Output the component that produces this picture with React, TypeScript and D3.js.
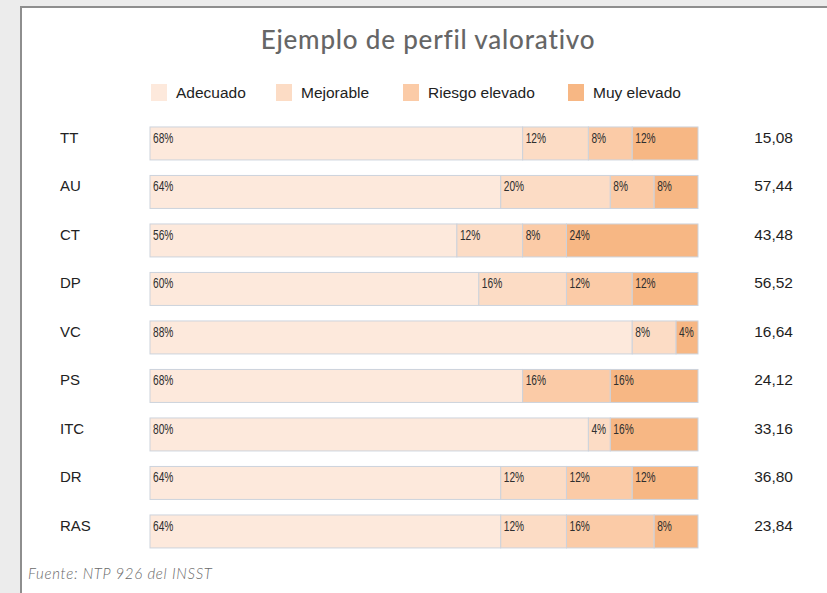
import React, { useRef, useEffect } from 'react';
import * as d3 from 'd3';

const rows = ['TT', 'AU', 'CT', 'DP', 'VC', 'PS', 'ITC', 'DR', 'RAS'];
const series = ['Adecuado', 'Mejorable', 'Riesgo elevado', 'Muy elevado'];
const adecuado = [68, 64, 56, 60, 88, 68, 80, 64, 64];
const mejorable = [12, 20, 12, 16, 8, 0, 4, 12, 12];
const riesgo = [8, 8, 8, 12, 0, 16, 0, 12, 16];
const muyElevado = [12, 8, 24, 12, 4, 16, 16, 12, 8];
const scores = ['15,08', '57,44', '43,48', '56,52', '16,64', '24,12', '33,16', '36,80', '23,84'];
const colors = ['#fde9dc', '#fcdcc5', '#fbcba7', '#f7b784'];

const W = 827;
const H = 593;

const App = () => {
  const svgRef = useRef<SVGSVGElement>(null);

  useEffect(() => {
    const svg = d3.select(svgRef.current);
    svg.selectAll('*').remove();

    // page + card
    svg.append('rect').attr('width', W).attr('height', H).attr('fill', '#ececec');
    svg.append('rect')
      .attr('x', 21).attr('y', 7).attr('width', W).attr('height', H)
      .attr('fill', '#fff').attr('stroke', '#8e8e8e').attr('stroke-width', 2);

    svg.append('text')
      .attr('x', 428).attr('y', 49)
      .attr('text-anchor', 'middle')
      .style('font-family', 'Lato, "Open Sans", sans-serif')
      .style('font-size', '26px')
      .style('font-weight', 500)
      .style('letter-spacing', '0.8px')
      .attr('fill', '#666')
      .text('Ejemplo de perfil valorativo');

    const table = rows.map((r, i) => ({
      row: r,
      Adecuado: adecuado[i],
      Mejorable: mejorable[i],
      'Riesgo elevado': riesgo[i],
      'Muy elevado': muyElevado[i],
    }));

    const x = d3.scaleLinear().domain([0, 100]).range([150, 698]);
    const y = d3.scaleBand().domain(rows).range([119.2, 555.7]).paddingInner(0.32).paddingOuter(0.16);
    const color = d3.scaleOrdinal<string, string>().domain(series).range(colors);

    const stack = d3.stack<any>().keys(series)(table);

    const sans = '"Liberation Sans", Arial, sans-serif';

    // legend
    const legendX = [151, 276, 403, 568];
    const legend = svg.append('g');
    series.forEach((s, i) => {
      legend.append('rect')
        .attr('x', legendX[i]).attr('y', 84).attr('width', 16).attr('height', 17)
        .attr('fill', color(s));
      legend.append('text')
        .attr('x', legendX[i] + 25).attr('y', 98)
        .style('font-family', sans)
        .style('font-size', '15.5px')
        .attr('fill', '#222')
        .text(s);
    });

    const layers = svg.append('g').selectAll('g')
      .data(stack)
      .join('g')
      .attr('fill', d => color(d.key));

    layers.selectAll('rect')
      .data(d => d.filter(p => p[1] - p[0] > 0))
      .join('rect')
      .attr('x', d => x(d[0]))
      .attr('y', d => y(d.data.row)!)
      .attr('width', d => x(d[1]) - x(d[0]))
      .attr('height', y.bandwidth())
      .attr('stroke', '#cdd3dc')
      .attr('stroke-width', 1);

    // condensed percentage labels
    layers.selectAll('text')
      .data(d => d.filter(p => p[1] - p[0] > 0))
      .join('text')
      .attr('transform', d => `translate(${x(d[0]) + 3},${y(d.data.row)! + 16}) scale(0.68,1)`)
      .style('font-family', sans)
      .style('font-size', '15px')
      .attr('fill', '#2e2e2e')
      .text(d => `${d[1] - d[0]}%`);

    svg.append('g').selectAll('text')
      .data(rows)
      .join('text')
      .attr('x', 60)
      .attr('y', d => y(d)! + 16)
      .style('font-family', sans)
      .style('font-size', '15px')
      .attr('fill', '#222')
      .text(d => d);

    svg.append('g').selectAll('text')
      .data(scores)
      .join('text')
      .attr('x', 793)
      .attr('y', (d, i) => y(rows[i])! + 16)
      .attr('text-anchor', 'end')
      .style('font-family', sans)
      .style('font-size', '15.5px')
      .attr('fill', '#1e1e1e')
      .text(d => d);

    svg.append('text')
      .attr('x', 28).attr('y', 579)
      .style('font-family', 'Lato, "Open Sans", sans-serif')
      .style('font-size', '15px')
      .style('font-style', 'italic')
      .style('font-weight', 300)
      .style('letter-spacing', '0.7px')
      .attr('fill', '#6a6a6a')
      .text('Fuente: NTP 926 del INSST');
  }, []);

  return (
    <svg ref={svgRef} width={W} height={H}
      style={{ position: 'absolute', left: 0, top: 0, display: 'block' }} />
  );
};

export default App;
